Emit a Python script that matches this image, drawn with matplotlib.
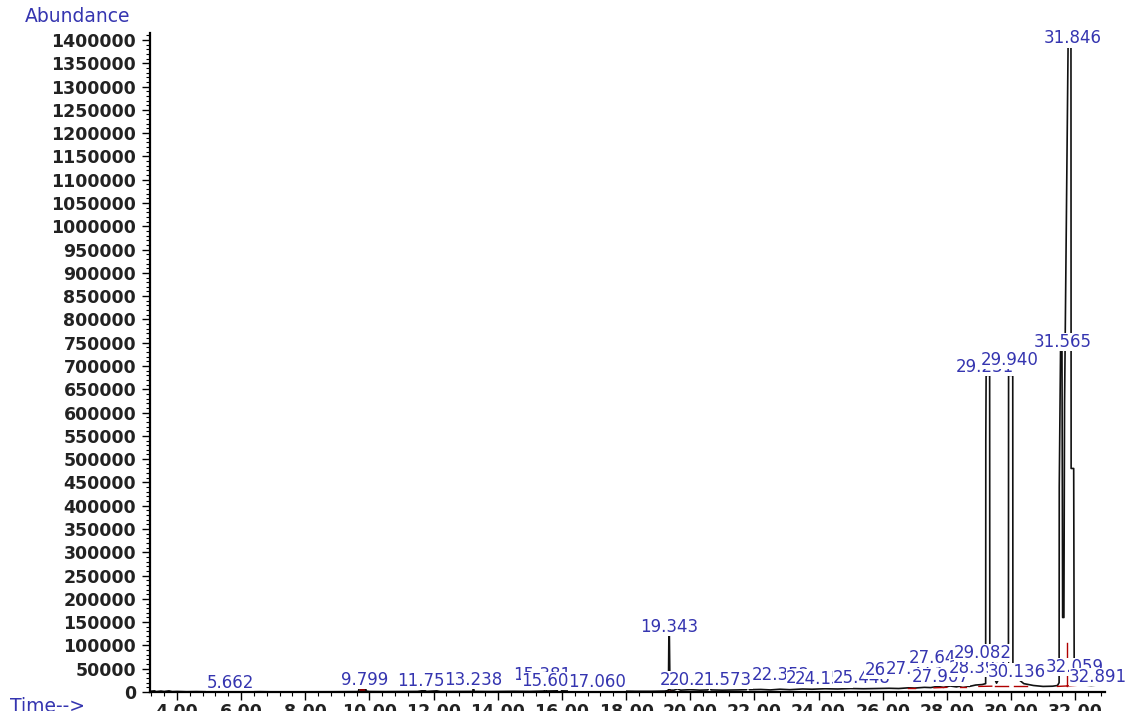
#GC-MS total ion chromatogram, peak labels written over the trace
import numpy as np
import matplotlib as mpl
import matplotlib.pyplot as plt

#%%
# trace vertices (time [min], abundance)
trace_t = [3.15, 3.30, 3.35, 3.50, 3.60, 3.75, 3.85, 4.00, 4.30, 4.60, 5.00, 5.30, 5.66, 5.75,
           6.20, 6.60, 7.00, 7.60, 8.20, 8.80, 9.30, 9.60,
           9.66, 9.68, 9.73, 9.78, 9.86, 9.90, 10.00,
           10.50, 11.00, 11.50, 11.72, 11.78, 12.10, 12.20, 12.80, 13.22, 13.24, 13.27,
           13.80, 14.20, 14.50, 15.00, 15.45, 15.48, 15.52, 15.85, 15.88, 15.95, 16.00,
           16.50, 17.00, 17.10, 17.25, 17.50, 17.80, 18.30, 18.80, 19.20, 19.32,
           19.335, 19.35, 19.37, 19.50, 19.60, 19.70, 20.00, 20.30, 20.55, 20.58, 20.62, 20.65,
           21.00, 21.50, 21.75, 21.78, 21.82, 21.85, 22.20, 22.50, 22.80, 23.10, 23.50, 23.80,
           24.20, 24.60, 25.00, 25.40, 25.80, 26.20, 26.50, 26.80, 27.00, 27.30, 27.50, 27.70,
           27.90, 28.10, 28.30, 28.50, 28.70, 28.90, 29.10,
           29.21, 29.215, 29.225, 29.335, 29.34, 29.40, 29.47, 29.55, 29.65, 29.85,
           29.92, 29.925, 30.055, 30.06, 30.10, 30.16, 30.22, 30.40, 30.70, 31.00, 31.30, 31.45,
           31.50, 31.505, 31.545, 31.59, 31.61, 31.65, 31.67, 31.78, 31.87, 31.875, 31.955, 31.97,
           32.02, 32.06, 32.10, 32.30, 32.50, 32.70, 32.89, 32.95]
trace_a = [1500, 2500, 800, 2000, 1000, 2500, 800, 1200, 600, 900, 400, 800, 1800, 400,
           300, 700, 300, 300, 400, 500, 600, 800,
           1000, 11000, 13000, 15000, 13000, 2000, 1000,
           800, 900, 1200, 3500, 1200, 2500, 1000, 1000, 1200, 9000, 1200,
           1000, 1200, 1500, 1200, 2000, 10000, 2000, 2500, 9000, 9000, 2500,
           1500, 2000, 6000, 4000, 3000, 2000, 1500, 1500, 2000, 3000,
           122000, 122000, 4000, 4000, 7000, 4000, 5000, 4000, 4500, 10000, 10000, 4500,
           4000, 4500, 5000, 9000, 9000, 5000, 5500, 4500, 6000, 5000, 6500, 6000,
           7000, 6500, 7500, 7000, 7500, 8000, 7500, 9000, 8500, 10000, 9500, 12000,
           10000, 13000, 11000, 14000, 12000, 15000, 16000,
           18000, 540000, 680000, 680000, 30000, 30000, 32000, 19000, 32000, 30000,
           30000, 680000, 680000, 35000, 30000, 43000, 28000, 18000, 14000, 12000, 12500, 14000,
           20000, 440000, 734000, 734000, 160000, 160000, 620000, 1387000, 1387000, 480000, 480000, 60000,
           40000, 30000, 16000, 15000, 14000, 15000, 17000, 17000]

# integration baselines (dark red)
red_t0 = [19.30, 26.80, 27.60, 28.40, 29.00, 29.50, 30.10, 31.45, 31.75, 31.74]
red_t1 = [19.40, 27.00, 28.00, 28.60, 29.40, 29.90, 30.50, 31.75, 32.20, 31.74]
red_a0 = [2000, 8000, 9000, 11000, 12000, 13000, 12000, 12000, 13000, 13000]
red_a1 = [2000, 8000, 10000, 11000, 12500, 13000, 12000, 13000, 15000, 105000]

# peak labels: text, time, abundance of the label baseline
label_txt = ["5.662", "9.799", "11.758", "13.238", "15.381", "15.609", "17.060",
             "19.343", "20.006", "20.178", "21.573", "22.352", "22.987", "24.158",
             "25.448", "26.294", "27.213", "27.647", "27.907", "28.392", "29.082",
             "29.231", "29.940", "30.136", "31.565", "31.846", "32.059", "32.891"]
label_t = [5.662, 9.85, 11.76, 13.24, 15.38, 15.63, 17.10,
           19.343, 19.95, 20.25, 21.03, 22.83, 23.89, 24.17,
           25.36, 26.33, 27.01, 27.70, 27.82, 28.98, 29.13,
           29.20, 29.96, 30.19, 31.60, 31.91, 32.00, 32.72]
label_a = [8600, 15000, 12900, 15000, 25800, 12900, 10700,
           128800, 15000, 15000, 15000, 25800, 19300, 17200,
           19300, 36500, 38600, 62300, 21500, 40800, 73000,
           687000, 702000, 32200, 740700, 1393000, 43000, 21500]

x_major = np.arange(4, 33, 2)
y_major = np.arange(0, 1400001, 50000)

#%%
blue = '#3535b0'
fig = plt.figure(figsize=(11.29, 7.11), dpi=100)
ax = fig.add_axes([0.1329, 0.0267, 0.8461, 0.9269])

# small peak at 9.8 is shaded in the original
ax.fill_between(trace_t[22:29], 0, trace_a[22:29], color='#8b0000', lw=0, zorder=1)
ax.plot(trace_t, trace_a, color='#111111', lw=1.2, zorder=2)
for t0, t1, a0, a1 in zip(red_t0, red_t1, red_a0, red_a1):
    ax.plot([t0, t1], [a0, a1], color='#b00000', lw=1.0, zorder=3)

for txt, t, a in zip(label_txt, label_t, label_a):
    ax.text(t, a, txt, ha='center', va='baseline', color=blue, fontsize=12,
            zorder=4, bbox=dict(facecolor='white', edgecolor='none', pad=0.2))

ax.set_xlim(3.16, 32.94)
ax.set_ylim(0, 1415000)
ax.set_xticks(x_major)
ax.set_xticklabels(["%.2f" % v for v in x_major])
ax.set_xticks(np.arange(3.2, 32.95, 0.4), minor=True)
ax.set_yticks(y_major)
ax.set_yticklabels(["%d" % v for v in y_major])
ax.set_yticks(np.arange(0, 1410001, 10000), minor=True)

for s in ['top', 'right']:
    ax.spines[s].set_visible(False)
for s in ['left', 'bottom']:
    ax.spines[s].set_linewidth(1.6)
    ax.spines[s].set_zorder(6)

ax.tick_params(axis='both', which='major', length=6, width=1.0, labelsize=12.5, pad=2)
ax.tick_params(axis='both', which='minor', length=3, width=0.8)
ax.tick_params(axis='y', pad=4)
for lab in ax.get_xticklabels() + ax.get_yticklabels():
    lab.set_fontweight('bold')
    lab.set_color('#222222')

fig.text(25/1129, 1 - 17/711, "Abundance", color=blue, fontsize=13.5, va='center', ha='left')
fig.text(10/1129, 1 - 706/711, "Time-->", color=blue, fontsize=13.5, va='center', ha='left')

plt.savefig("out.png", dpi=100)
